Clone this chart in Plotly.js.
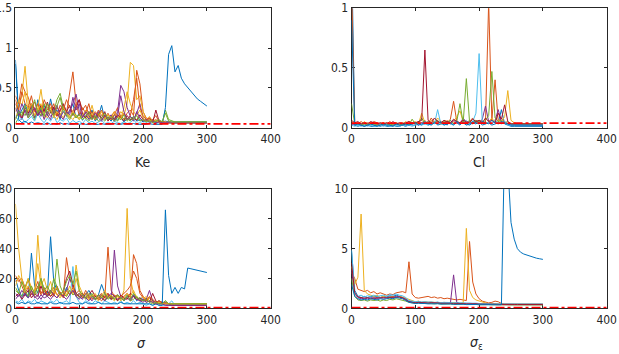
<!DOCTYPE html>
<html>
<head>
<meta charset="utf-8">
<script src="https://cdn.plot.ly/plotly-3.0.1.min.js"></script>
<style>
  html, body { margin: 0; padding: 0; background: #fff; }
  #chart { width: 619px; height: 354px; }
</style>
</head>
<body>
<div id="chart"></div>
<script>
// Iteration index shared by all chains (sampled every 5 iterations)
const iter = [
  0, 5, 10, 15, 20, 25, 30, 35, 40, 45,
  50, 55, 60, 65, 70, 75, 80, 85, 90, 95,
  100, 105, 110, 115, 120, 125, 130, 135, 140, 145,
  150, 155, 160, 165, 170, 175, 180, 185, 190, 195,
  200, 205, 210, 215, 220, 225, 230, 235, 240, 245,
  250, 255, 260, 265, 270, 275, 280, 285, 290, 295,
  300
];

// ---- Ke chains ----
const keChain1 = [
  0.85, 0.15, 0.22, 0.30, 0.18, 0.25, 0.12, 0.35, 0.20, 0.28,
  0.15, 0.36, 0.18, 0.22, 0.10, 0.26, 0.14, 0.20, 0.30, 0.12,
  0.18, 0.09, 0.15, 0.11, 0.22, 0.08, 0.14, 0.28, 0.10, 0.12,
  0.08, 0.16, 0.09, 0.13, 0.07, 0.11, 0.09, 0.14, 0.08, 0.10,
  0.07, 0.09, 0.08, 0.10, 0.07, 0.08, 0.07, 0.08, 0.07, 0.07,
  0.07, 0.07, 0.07, 0.07, 0.07, 0.07, 0.07, 0.07, 0.07, 0.07,
  0.07
];
const keChain2 = [
  0.40, 0.30, 0.55, 0.45, 0.38, 0.25, 0.32, 0.20, 0.28, 0.18,
  0.22, 0.30, 0.15, 0.25, 0.20, 0.28, 0.18, 0.45, 0.70, 0.30,
  0.35, 0.22, 0.28, 0.16, 0.20, 0.12, 0.22, 0.15, 0.18, 0.10,
  0.14, 0.20, 0.12, 0.16, 0.10, 0.18, 0.22, 0.15, 0.72, 0.55,
  0.20, 0.12, 0.08, 0.10, 0.15, 0.07, 0.06, 0.07, 0.06, 0.06,
  0.06, 0.06, 0.06, 0.06, 0.06, 0.06, 0.06, 0.06, 0.06, 0.06,
  0.06
];
const keChain3 = [
  0.10, 0.25, 0.40, 0.77, 0.30, 0.20, 0.15, 0.25, 0.48, 0.18,
  0.12, 0.20, 0.15, 0.10, 0.18, 0.12, 0.22, 0.14, 0.10, 0.16,
  0.12, 0.18, 0.10, 0.14, 0.28, 0.12, 0.16, 0.10, 0.14, 0.12,
  0.10, 0.16, 0.12, 0.20, 0.15, 0.30, 0.82, 0.78, 0.35, 0.40,
  0.20, 0.10, 0.14, 0.08, 0.07, 0.08, 0.07, 0.07, 0.06, 0.06,
  0.06, 0.06, 0.06, 0.06, 0.06, 0.06, 0.06, 0.06, 0.06, 0.06,
  0.06
];
const keChain4 = [
  0.12, 0.18, 0.10, 0.22, 0.15, 0.28, 0.12, 0.20, 0.14, 0.24,
  0.16, 0.10, 0.25, 0.18, 0.12, 0.20, 0.15, 0.22, 0.30, 0.42,
  0.20, 0.14, 0.18, 0.10, 0.15, 0.12, 0.20, 0.10, 0.14, 0.12,
  0.16, 0.10, 0.20, 0.53, 0.45, 0.25, 0.14, 0.10, 0.18, 0.30,
  0.12, 0.08, 0.10, 0.07, 0.08, 0.06, 0.06, 0.06, 0.06, 0.06,
  0.06, 0.06, 0.06, 0.06, 0.06, 0.06, 0.06, 0.06, 0.06, 0.06,
  0.06
];
const keChain5 = [
  0.05, 0.12, 0.20, 0.15, 0.25, 0.18, 0.10, 0.22, 0.15, 0.30,
  0.18, 0.25, 0.20, 0.35, 0.43, 0.25, 0.18, 0.12, 0.20, 0.15,
  0.10, 0.16, 0.12, 0.08, 0.14, 0.10, 0.18, 0.12, 0.08, 0.14,
  0.10, 0.12, 0.08, 0.15, 0.10, 0.12, 0.08, 0.14, 0.10, 0.12,
  0.08, 0.10, 0.07, 0.09, 0.07, 0.08, 0.06, 0.22, 0.10, 0.08,
  0.07, 0.07, 0.07, 0.07, 0.07, 0.07, 0.07, 0.07, 0.07, 0.07,
  0.07
];
const keChain6 = [
  0.15, 0.08, 0.12, 0.06, 0.10, 0.14, 0.08, 0.18, 0.10, 0.06,
  0.12, 0.08, 0.15, 0.06, 0.10, 0.08, 0.12, 0.05, 0.09, 0.06,
  0.08, 0.05, 0.10, 0.06, 0.08, 0.05, 0.07, 0.09, 0.05, 0.06,
  0.05, 0.08, 0.06, 0.05, 0.07, 0.05, 0.06, 0.10, 0.05, 0.06,
  0.05, 0.06, 0.05, 0.08, 0.05, 0.06, 0.05, 0.06, 0.07, 0.05,
  0.05, 0.05, 0.05, 0.05, 0.05, 0.05, 0.05, 0.05, 0.05, 0.05,
  0.05
];
const keChain7 = [
  0.30, 0.20, 0.12, 0.25, 0.18, 0.30, 0.22, 0.15, 0.28, 0.20,
  0.32, 0.18, 0.26, 0.14, 0.22, 0.30, 0.20, 0.28, 0.15, 0.25,
  0.35, 0.18, 0.12, 0.20, 0.15, 0.10, 0.16, 0.12, 0.20, 0.08,
  0.14, 0.10, 0.16, 0.12, 0.08, 0.15, 0.10, 0.12, 0.09, 0.16,
  0.10, 0.08, 0.12, 0.06, 0.22, 0.08, 0.07, 0.06, 0.07, 0.06,
  0.06, 0.06, 0.06, 0.06, 0.06, 0.06, 0.06, 0.06, 0.06, 0.06,
  0.06
];
const keChain8 = [
  0.80, 0.10, 0.06, 0.08, 0.05, 0.07, 0.05, 0.06, 0.05, 0.04,
  0.06, 0.04, 0.05, 0.04, 0.06, 0.04, 0.05, 0.04, 0.04, 0.05,
  0.04, 0.05, 0.04, 0.04, 0.05, 0.04, 0.04, 0.05, 0.04, 0.04,
  0.04, 0.05, 0.04, 0.04, 0.05, 0.04, 0.04, 0.05, 0.04, 0.04,
  0.04, 0.04, 0.05, 0.04, 0.04, 0.04, 0.04, 0.25, 0.92, 1.03,
  0.70, 0.78, 0.62, 0.55, 0.50, 0.45, 0.40, 0.36, 0.33, 0.30,
  0.27
];
const keChain9 = [
  0.35, 0.22, 0.45, 0.30, 0.25, 0.40, 0.20, 0.30, 0.18, 0.35,
  0.25, 0.20, 0.30, 0.15, 0.28, 0.22, 0.35, 0.25, 0.20, 0.30,
  0.15, 0.25, 0.18, 0.30, 0.12, 0.20, 0.15, 0.22, 0.12, 0.18,
  0.10, 0.16, 0.25, 0.12, 0.18, 0.10, 0.15, 0.35, 0.62, 0.25,
  0.15, 0.10, 0.12, 0.08, 0.10, 0.07, 0.08, 0.06, 0.06, 0.06,
  0.06, 0.06, 0.06, 0.06, 0.06, 0.06, 0.06, 0.06, 0.06, 0.06,
  0.06
];
const keChain10 = [
  0.20, 0.35, 0.28, 0.45, 0.20, 0.30, 0.15, 0.22, 0.30, 0.12,
  0.18, 0.25, 0.12, 0.20, 0.15, 0.25, 0.18, 0.12, 0.20, 0.14,
  0.10, 0.15, 0.22, 0.12, 0.18, 0.10, 0.14, 0.20, 0.10, 0.16,
  0.12, 0.20, 0.14, 0.10, 0.25, 0.45, 0.30, 0.20, 0.15, 0.22,
  0.12, 0.08, 0.10, 0.07, 0.09, 0.06, 0.07, 0.06, 0.06, 0.06,
  0.06, 0.06, 0.06, 0.06, 0.06, 0.06, 0.06, 0.06, 0.06, 0.06,
  0.06
];
const keChain11 = [
  0.25, 0.15, 0.30, 0.20, 0.12, 0.18, 0.25, 0.15, 0.22, 0.10,
  0.20, 0.14, 0.18, 0.28, 0.15, 0.10, 0.20, 0.16, 0.38, 0.22,
  0.30, 0.12, 0.20, 0.15, 0.10, 0.18, 0.12, 0.08, 0.16, 0.10,
  0.12, 0.08, 0.14, 0.40, 0.20, 0.10, 0.14, 0.08, 0.20, 0.12,
  0.08, 0.10, 0.06, 0.08, 0.06, 0.07, 0.06, 0.06, 0.06, 0.06,
  0.06, 0.06, 0.06, 0.06, 0.06, 0.06, 0.06, 0.06, 0.06, 0.06,
  0.06
];
const keChain12 = [
  0.10, 0.20, 0.15, 0.28, 0.12, 0.22, 0.35, 0.18, 0.25, 0.14,
  0.30, 0.20, 0.15, 0.28, 0.38, 0.20, 0.15, 0.10, 0.18, 0.12,
  0.16, 0.10, 0.14, 0.20, 0.10, 0.15, 0.08, 0.12, 0.18, 0.10,
  0.14, 0.08, 0.12, 0.10, 0.16, 0.08, 0.12, 0.10, 0.15, 0.08,
  0.10, 0.07, 0.09, 0.06, 0.08, 0.10, 0.07, 0.18, 0.08, 0.07,
  0.07, 0.07, 0.07, 0.07, 0.07, 0.07, 0.07, 0.07, 0.07, 0.07,
  0.07
];

// ---- Cl chains ----
const clChain1 = [
  1.50, 0.02, 0.01, 0.02, 0.01, 0.02, 0.01, 0.01, 0.02, 0.01,
  0.02, 0.01, 0.01, 0.02, 0.01, 0.01, 0.02, 0.01, 0.03, 0.02,
  0.02, 0.03, 0.02, 0.04, 0.02, 0.03, 0.05, 0.02, 0.03, 0.04,
  0.02, 0.06, 0.03, 0.04, 0.02, 0.05, 0.03, 0.02, 0.04, 0.03,
  0.05, 0.02, 0.03, 0.04, 0.02, 0.03, 0.04, 0.15, 0.03, 0.02,
  0.01, 0.01, 0.01, 0.01, 0.01, 0.01, 0.01, 0.01, 0.01, 0.01,
  0.01
];
const clChain2 = [
  1.20, 0.04, 0.03, 0.05, 0.03, 0.04, 0.03, 0.05, 0.04, 0.03,
  0.04, 0.03, 0.05, 0.03, 0.04, 0.03, 0.04, 0.03, 0.05, 0.04,
  0.03, 0.05, 0.04, 0.06, 0.03, 0.08, 0.04, 0.05, 0.03, 0.06,
  0.04, 0.07, 0.22, 0.05, 0.04, 0.06, 0.03, 0.05, 0.08, 0.04,
  0.06, 0.05, 0.04, 1.05, 0.06, 0.40, 0.05, 0.08, 0.04, 0.03,
  0.03, 0.03, 0.03, 0.03, 0.03, 0.03, 0.03, 0.03, 0.03, 0.03,
  0.03
];
const clChain3 = [
  0.05, 0.03, 0.04, 0.02, 0.05, 0.03, 0.04, 0.03, 0.02, 0.04,
  0.03, 0.04, 0.02, 0.03, 0.04, 0.02, 0.03, 0.05, 0.03, 0.04,
  0.05, 0.03, 0.12, 0.04, 0.03, 0.06, 0.04, 0.08, 0.05, 0.03,
  0.06, 0.04, 0.05, 0.09, 0.14, 0.05, 0.04, 0.06, 0.03, 0.05,
  0.04, 0.06, 0.03, 0.05, 0.08, 0.04, 0.06, 0.05, 0.09, 0.31,
  0.06, 0.04, 0.03, 0.03, 0.03, 0.03, 0.03, 0.03, 0.03, 0.03,
  0.03
];
const clChain4 = [
  0.03, 0.02, 0.03, 0.02, 0.03, 0.02, 0.03, 0.02, 0.02, 0.03,
  0.02, 0.03, 0.02, 0.02, 0.03, 0.02, 0.03, 0.02, 0.03, 0.04,
  0.03, 0.02, 0.04, 0.03, 0.05, 0.03, 0.04, 0.06, 0.03, 0.04,
  0.05, 0.03, 0.06, 0.04, 0.03, 0.08, 0.04, 0.05, 0.03, 0.06,
  0.04, 0.07, 0.18, 0.05, 0.03, 0.06, 0.15, 0.04, 0.05, 0.03,
  0.02, 0.02, 0.02, 0.02, 0.02, 0.02, 0.02, 0.02, 0.02, 0.02,
  0.02
];
const clChain5 = [
  0.20, 0.03, 0.02, 0.03, 0.02, 0.03, 0.02, 0.03, 0.02, 0.02,
  0.03, 0.02, 0.03, 0.02, 0.02, 0.03, 0.02, 0.03, 0.02, 0.07,
  0.03, 0.04, 0.08, 0.03, 0.05, 0.03, 0.04, 0.06, 0.03, 0.05,
  0.04, 0.06, 0.03, 0.05, 0.20, 0.04, 0.41, 0.05, 0.04, 0.06,
  0.05, 0.04, 0.06, 0.10, 0.47, 0.08, 0.05, 0.06, 0.04, 0.05,
  0.03, 0.03, 0.03, 0.03, 0.03, 0.03, 0.03, 0.03, 0.03, 0.03,
  0.03
];
const clChain6 = [
  0.02, 0.01, 0.02, 0.01, 0.02, 0.01, 0.02, 0.01, 0.01, 0.02,
  0.01, 0.02, 0.01, 0.01, 0.02, 0.01, 0.02, 0.01, 0.02, 0.01,
  0.02, 0.03, 0.02, 0.03, 0.02, 0.04, 0.03, 0.15, 0.03, 0.02,
  0.04, 0.03, 0.02, 0.05, 0.03, 0.04, 0.06, 0.03, 0.05, 0.12,
  0.62, 0.04, 0.03, 0.05, 0.03, 0.06, 0.04, 0.03, 0.05, 0.02,
  0.02, 0.02, 0.02, 0.02, 0.02, 0.02, 0.02, 0.02, 0.02, 0.02,
  0.02
];
const clChain7 = [
  0.06, 0.04, 0.05, 0.03, 0.04, 0.03, 0.05, 0.04, 0.03, 0.04,
  0.03, 0.04, 0.03, 0.05, 0.03, 0.04, 0.03, 0.04, 0.05, 0.03,
  0.04, 0.05, 0.06, 0.65, 0.06, 0.04, 0.08, 0.05, 0.04, 0.06,
  0.05, 0.04, 0.07, 0.05, 0.04, 0.06, 0.05, 0.04, 0.07, 0.05,
  0.06, 0.04, 0.08, 0.05, 0.06, 0.04, 0.12, 0.07, 0.19, 0.05,
  0.03, 0.03, 0.03, 0.03, 0.03, 0.03, 0.03, 0.03, 0.03, 0.03,
  0.03
];
const clChain8 = [
  0.90, 0.02, 0.03, 0.02, 0.01, 0.02, 0.03, 0.02, 0.01, 0.02,
  0.03, 0.02, 0.02, 0.01, 0.03, 0.02, 0.02, 0.03, 0.02, 0.03,
  0.04, 0.02, 0.03, 0.05, 0.03, 0.02, 0.04, 0.03, 0.05, 0.02,
  0.03, 0.04, 0.02, 0.05, 0.03, 0.04, 0.02, 0.03, 0.05, 0.04,
  0.03, 0.05, 0.04, 0.03, 0.06, 0.04, 0.03, 0.05, 0.04, 0.03,
  0.02, 0.02, 0.02, 0.02, 0.02, 0.02, 0.02, 0.02, 0.02, 0.02,
  0.02
];

// ---- sigma chains ----
const sigmaChain1 = [
  20, 12, 8, 10, 7, 37, 15, 10, 20, 12,
  9, 48, 18, 12, 10, 8, 14, 9, 12, 8,
  10, 7, 9, 12, 8, 6, 9, 16, 10, 7,
  8, 6, 9, 7, 5, 8, 6, 9, 5, 7,
  6, 5, 7, 5, 4, 5, 4, 4, 3, 3,
  3, 3, 3, 3, 3, 3, 3, 3, 3, 3,
  3
];
const sigmaChain2 = [
  22, 18, 20, 14, 19, 12, 10, 15, 9, 12,
  8, 10, 14, 9, 11, 8, 34, 20, 14, 10,
  12, 8, 10, 7, 9, 6, 8, 10, 7, 41,
  12, 8, 9, 6, 8, 10, 7, 36, 30, 12,
  8, 6, 7, 5, 4, 5, 4, 3, 3, 3,
  3, 3, 3, 3, 3, 3, 3, 3, 3, 3,
  3
];
const sigmaChain3 = [
  70, 40, 20, 12, 15, 10, 8, 49, 20, 12,
  10, 8, 12, 9, 7, 10, 8, 12, 9, 29,
  15, 10, 8, 6, 9, 7, 5, 8, 6, 9,
  7, 5, 8, 6, 12, 67, 20, 10, 8, 6,
  8, 5, 7, 4, 5, 3, 4, 3, 3, 3,
  3, 3, 3, 3, 3, 3, 3, 3, 3, 3,
  3
];
const sigmaChain4 = [
  10, 8, 12, 9, 7, 10, 8, 6, 9, 7,
  8, 6, 9, 7, 10, 8, 12, 20, 15, 9,
  8, 6, 10, 7, 5, 8, 6, 7, 5, 8,
  6, 39, 15, 8, 6, 7, 5, 8, 6, 5,
  4, 6, 12, 5, 4, 3, 3, 2, 2, 2,
  2, 2, 2, 2, 2, 2, 2, 2, 2, 2,
  2
];
const sigmaChain5 = [
  12, 10, 8, 14, 20, 12, 9, 11, 18, 10,
  8, 12, 9, 33, 15, 10, 8, 12, 9, 10,
  7, 9, 6, 8, 10, 6, 7, 9, 5, 8,
  6, 8, 5, 7, 6, 9, 5, 6, 8, 5,
  6, 4, 5, 4, 3, 4, 3, 5, 3, 3,
  3, 3, 3, 3, 3, 3, 3, 3, 3, 3,
  3
];
const sigmaChain6 = [
  5, 4, 6, 3, 5, 4, 6, 3, 5, 4,
  3, 5, 4, 6, 3, 4, 5, 3, 28, 8,
  4, 3, 5, 4, 3, 5, 4, 3, 5, 4,
  3, 4, 3, 5, 3, 4, 3, 5, 3, 4,
  3, 2, 3, 2, 3, 2, 2, 2, 3, 5,
  2, 2, 2, 2, 2, 2, 2, 2, 2, 2,
  2
];
const sigmaChain7 = [
  8, 10, 6, 9, 12, 7, 10, 8, 15, 9,
  12, 8, 10, 14, 9, 11, 20, 25, 16, 10,
  8, 10, 7, 9, 12, 8, 6, 9, 7, 10,
  6, 8, 5, 9, 7, 6, 10, 8, 6, 7,
  5, 6, 4, 10, 5, 3, 4, 3, 3, 2,
  2, 2, 2, 2, 2, 2, 2, 2, 2, 2,
  2
];
const sigmaChain8 = [
  4, 3, 4, 3, 4, 3, 3, 4, 3, 3,
  3, 4, 3, 3, 4, 3, 3, 3, 4, 3,
  3, 3, 4, 3, 3, 3, 4, 3, 3, 3,
  3, 3, 3, 4, 3, 3, 3, 3, 3, 3,
  3, 3, 3, 2, 3, 2, 2, 66, 22, 10,
  14, 10, 14, 13, 27, 26.5, 26, 25.5, 25, 24.5,
  24
];
const sigmaChain9 = [
  18, 20, 15, 10, 14, 9, 12, 18, 10, 14,
  9, 12, 8, 15, 10, 7, 12, 9, 14, 8,
  10, 7, 12, 8, 6, 9, 7, 5, 8, 10,
  7, 9, 6, 8, 10, 12, 15, 25, 20, 10,
  7, 5, 8, 6, 4, 5, 3, 4, 3, 3,
  3, 3, 3, 3, 3, 3, 3, 3, 3, 3,
  3
];
const sigmaChain10 = [
  15, 22, 18, 12, 20, 14, 10, 30, 15, 20,
  12, 18, 10, 14, 8, 12, 9, 15, 10, 20,
  12, 8, 10, 6, 8, 10, 6, 8, 12, 7,
  9, 6, 8, 5, 7, 10, 8, 12, 7, 5,
  6, 8, 5, 4, 3, 4, 3, 3, 3, 3,
  3, 3, 3, 3, 3, 3, 3, 3, 3, 3,
  3
];
const sigmaChain11 = [
  6, 9, 7, 10, 8, 12, 7, 9, 6, 10,
  8, 12, 9, 7, 10, 8, 6, 9, 12, 8,
  6, 9, 7, 5, 8, 6, 9, 7, 5, 8,
  10, 8, 6, 7, 5, 8, 6, 9, 7, 5,
  6, 4, 5, 4, 3, 3, 3, 2, 2, 2,
  2, 2, 2, 2, 2, 2, 2, 2, 2, 2,
  2
];
const sigmaChain12 = [
  14, 10, 18, 12, 8, 15, 10, 14, 20, 12,
  15, 10, 20, 14, 9, 12, 18, 22, 16, 25,
  12, 9, 7, 10, 8, 6, 9, 7, 10, 6,
  8, 6, 9, 7, 5, 8, 6, 10, 7, 6,
  5, 6, 4, 3, 4, 3, 3, 5, 3, 3,
  3, 3, 3, 3, 3, 3, 3, 3, 3, 3,
  3
];

// ---- sigma_epsilon chains ----
const sigEpsChain1 = [
  4.8, 1.5, 1.0, 0.9, 1.0, 0.9, 1.0, 0.95, 1.0, 0.9,
  1.0, 0.95, 1.05, 1.0, 1.1, 1.0, 0.95, 0.8, 0.6, 0.55,
  0.5, 0.55, 0.5, 0.52, 0.48, 0.5, 0.47, 0.5, 0.45, 0.48,
  0.45, 0.47, 0.43, 0.45, 0.42, 0.44, 0.4, 0.42, 0.4, 0.38,
  0.4, 0.38, 0.36, 0.37, 0.35, 0.36, 0.34, 0.35, 0.33, 0.34,
  0.33, 0.33, 0.33, 0.33, 0.33, 0.33, 0.33, 0.33, 0.33, 0.33,
  0.33
];
const sigEpsChain2 = [
  3.0, 2.5, 1.6, 1.5, 1.4, 1.5, 1.3, 1.4, 1.2, 1.3,
  1.2, 1.1, 1.2, 1.15, 1.3, 1.35, 1.4, 1.3, 3.9, 1.2,
  0.9, 0.85, 0.9, 0.95, 1.0, 0.9, 0.95, 0.85, 0.9, 0.8,
  0.85, 0.8, 0.75, 0.7, 0.75, 0.7, 0.65, 5.6, 2.2, 1.2,
  0.8, 0.6, 0.5, 0.45, 0.5, 0.6, 0.55, 0.4, 0.35, 0.35,
  0.35, 0.35, 0.35, 0.35, 0.35, 0.35, 0.35, 0.35, 0.35, 0.35,
  0.35
];
const sigEpsChain3 = [
  3.5, 2.0, 2.6, 7.9, 1.5, 1.2, 1.1, 1.0, 1.1, 0.9,
  1.0, 0.9, 0.95, 1.0, 0.9, 1.0, 0.95, 0.85, 0.7, 0.6,
  0.55, 0.6, 0.5, 0.55, 0.5, 0.52, 0.48, 0.5, 0.45, 0.5,
  0.45, 0.48, 0.44, 0.46, 0.42, 0.45, 6.7, 1.5, 0.9, 0.7,
  0.6, 0.5, 0.45, 0.4, 0.38, 0.4, 0.36, 0.35, 0.34, 0.33,
  0.33, 0.33, 0.33, 0.33, 0.33, 0.33, 0.33, 0.33, 0.33, 0.33,
  0.33
];
const sigEpsChain4 = [
  3.2, 1.2, 0.9, 0.8, 0.85, 0.8, 0.9, 0.85, 0.8, 0.9,
  0.85, 0.9, 0.95, 0.9, 1.0, 0.95, 0.9, 0.75, 0.55, 0.5,
  0.48, 0.5, 0.45, 0.48, 0.44, 0.46, 0.42, 0.45, 0.4, 0.43,
  0.4, 0.42, 2.8, 0.5, 0.38, 0.4, 0.36, 0.38, 0.35, 0.37,
  0.34, 0.35, 0.32, 0.33, 0.3, 0.32, 0.3, 0.31, 0.3, 0.3,
  0.3, 0.3, 0.3, 0.3, 0.3, 0.3, 0.3, 0.3, 0.3, 0.3,
  0.3
];
const sigEpsChain5 = [
  2.5, 1.0, 0.7, 0.65, 0.7, 0.6, 0.7, 0.65, 0.7, 0.6,
  0.7, 0.65, 0.75, 0.7, 0.8, 0.75, 0.7, 0.6, 0.5, 0.45,
  0.42, 0.45, 0.4, 0.42, 0.38, 0.4, 0.37, 0.4, 0.36, 0.38,
  0.35, 0.37, 0.34, 0.36, 0.33, 0.35, 0.32, 0.34, 0.31, 0.33,
  0.3, 0.32, 0.3, 0.31, 0.29, 0.3, 0.29, 0.3, 0.28, 0.29,
  0.28, 0.28, 0.28, 0.28, 0.28, 0.28, 0.28, 0.28, 0.28, 0.28,
  0.28
];
const sigEpsChain6 = [
  4.9, 1.2, 1.0, 1.1, 0.95, 1.05, 1.0, 1.1, 1.0, 1.05,
  1.1, 1.0, 1.15, 1.1, 1.2, 1.1, 1.05, 0.9, 0.65, 0.6,
  0.55, 0.58, 0.52, 0.55, 0.5, 0.53, 0.49, 0.52, 0.47, 0.5,
  0.46, 0.48, 0.45, 0.47, 0.43, 0.45, 0.42, 0.44, 0.41, 0.43,
  0.4, 0.41, 0.38, 0.4, 0.37, 0.38, 0.36, 0.37, 0.36, 0.36,
  0.36, 0.36, 0.36, 0.36, 0.36, 0.36, 0.36, 0.36, 0.36, 0.36,
  0.36
];
const sigEpsChain7 = [
  3.8, 1.3, 0.95, 0.9, 0.85, 0.9, 0.8, 0.85, 0.9, 0.85,
  0.9, 0.85, 0.9, 0.95, 0.9, 0.95, 0.85, 0.7, 0.55, 0.5,
  0.45, 0.5, 0.46, 0.48, 0.44, 0.47, 0.43, 0.45, 0.42, 0.44,
  0.4, 0.42, 0.39, 0.41, 0.38, 0.4, 0.37, 0.39, 0.36, 0.38,
  0.35, 0.36, 0.34, 0.35, 0.33, 0.34, 0.33, 0.34, 0.32, 0.33,
  0.32, 0.32, 0.32, 0.32, 0.32, 0.32, 0.32, 0.32, 0.32, 0.32,
  0.32
];
const sigEpsChain8 = [
  2.0, 1.0, 0.8, 0.7, 0.75, 0.7, 0.8, 0.75, 0.7, 0.8,
  0.75, 0.8, 0.85, 0.8, 0.9, 0.85, 0.8, 0.65, 0.5, 0.45,
  0.4, 0.42, 0.38, 0.4, 0.37, 0.39, 0.36, 0.38, 0.35, 0.37,
  0.34, 0.36, 0.33, 0.35, 0.32, 0.34, 0.31, 0.33, 0.3, 0.32,
  0.3, 0.31, 0.29, 0.3, 0.29, 0.3, 0.29, 0.3, 14, 12,
  7.2, 5.8, 5.0, 4.7, 4.55, 4.45, 4.35, 4.25, 4.2, 4.15,
  4.1
];

// True parameter values (reference lines) and their x extent
const trueX = [0, 400];
const trueKe = 0.045;
const trueCl = 0.037;
const trueSigma = 0.5;
const trueSigEps = 0.06;

// Axis tick values
const xTicks = [0, 100, 200, 300, 400];
const keTicks = [0, 0.5, 1, 1.5];
const clTicks = [0, 0.5, 1];
const sigmaTicks = [0, 20, 40, 60, 80];
const sigEpsTicks = [0, 5, 10];

// Axis titles
const titleKe = 'Ke';
const titleCl = 'Cl';
const titleSigma = '<i>σ</i>';
const titleSigEps = '<i>σ</i><sub>ε</sub>';

const chainColors = ['#0072BD', '#D95319', '#EDB120', '#7E2F8E', '#77AC30', '#4DBEEE', '#A2142F'];
const FONT = '"Liberation Sans Narrow", "Arial Narrow", "DejaVu Sans Condensed", sans-serif';

const panels = [
  { chains: [keChain1, keChain2, keChain3, keChain4, keChain5, keChain6, keChain7, keChain8, keChain9, keChain10, keChain11, keChain12], truth: trueKe, xa: 'x', ya: 'y' },
  { chains: [clChain1, clChain2, clChain3, clChain4, clChain5, clChain6, clChain7, clChain8], truth: trueCl, xa: 'x2', ya: 'y2' },
  { chains: [sigmaChain1, sigmaChain2, sigmaChain3, sigmaChain4, sigmaChain5, sigmaChain6, sigmaChain7, sigmaChain8, sigmaChain9, sigmaChain10, sigmaChain11, sigmaChain12], truth: trueSigma, xa: 'x3', ya: 'y3' },
  { chains: [sigEpsChain1, sigEpsChain2, sigEpsChain3, sigEpsChain4, sigEpsChain5, sigEpsChain6, sigEpsChain7, sigEpsChain8], truth: trueSigEps, xa: 'x4', ya: 'y4' }
];

const traces = [];
panels.forEach(p => {
  p.chains.forEach((vals, i) => {
    traces.push({
      type: 'scatter', mode: 'lines', x: iter, y: vals,
      xaxis: p.xa, yaxis: p.ya,
      line: { color: chainColors[i % chainColors.length], width: 1 },
      hoverinfo: 'skip', showlegend: false
    });
  });
  traces.push({
    type: 'scatter', mode: 'lines', x: trueX, y: [p.truth, p.truth],
    xaxis: p.xa, yaxis: p.ya, cliponaxis: false,
    line: { color: '#FF0000', width: 1.8, dash: 'dashdot' },
    hoverinfo: 'skip', showlegend: false
  });
});

const axisBase = {
  showgrid: false, zeroline: false, showline: true,
  linecolor: '#262626', linewidth: 1, mirror: 'ticks',
  ticks: 'inside', ticklen: 3, tickwidth: 1, tickcolor: '#262626',
  tickfont: { family: FONT, size: 12, color: '#262626' },
  layer: 'below traces',
  fixedrange: true
};
const xAxis = (domain, anchor) => Object.assign({}, axisBase, {
  domain: domain, anchor: anchor, range: [0, 400], tickvals: xTicks,
  ticktext: xTicks.map(String)
});
const yAxis = (domain, anchor, range, tv) => Object.assign({}, axisBase, {
  domain: domain, anchor: anchor, range: range, tickvals: tv,
  ticktext: tv.map(String)
});

const leftDom = [0.025, 0.4373];
const rightDom = [0.5679, 0.9801];
const topDom = [0.6398, 0.9766];
const botDom = [0.1291, 0.4661];

const titleFont = { family: FONT, size: 14, color: '#262626' };
const layout = {
  width: 619, height: 354,
  margin: { l: 0, r: 0, t: 0, b: 0 },
  paper_bgcolor: '#ffffff', plot_bgcolor: '#ffffff',
  showlegend: false,
  xaxis: xAxis(leftDom, 'y'),
  yaxis: yAxis(topDom, 'x', [0, 1.5], keTicks),
  xaxis2: xAxis(rightDom, 'y2'),
  yaxis2: yAxis(topDom, 'x2', [0, 1], clTicks),
  xaxis3: xAxis(leftDom, 'y3'),
  yaxis3: yAxis(botDom, 'x3', [0, 80], sigmaTicks),
  xaxis4: xAxis(rightDom, 'y4'),
  yaxis4: yAxis(botDom, 'x4', [0, 10], sigEpsTicks),
  annotations: [
    { text: titleKe, xref: 'paper', yref: 'paper', x: 0.2312, y: 1 - 162 / 354, xanchor: 'center', yanchor: 'middle', showarrow: false, font: titleFont },
    { text: titleCl, xref: 'paper', yref: 'paper', x: 0.7740, y: 1 - 162 / 354, xanchor: 'center', yanchor: 'middle', showarrow: false, font: titleFont },
    { text: titleSigma, xref: 'paper', yref: 'paper', x: 0.2290, y: 1 - 343 / 354, xanchor: 'center', yanchor: 'middle', showarrow: false, font: titleFont },
    { text: titleSigEps, xref: 'paper', yref: 'paper', x: 0.7690, y: 1 - 343 / 354, xanchor: 'center', yanchor: 'middle', showarrow: false, font: titleFont }
  ]
};

Plotly.newPlot('chart', traces, layout, { staticPlot: true, displayModeBar: false });
</script>
</body>
</html>
